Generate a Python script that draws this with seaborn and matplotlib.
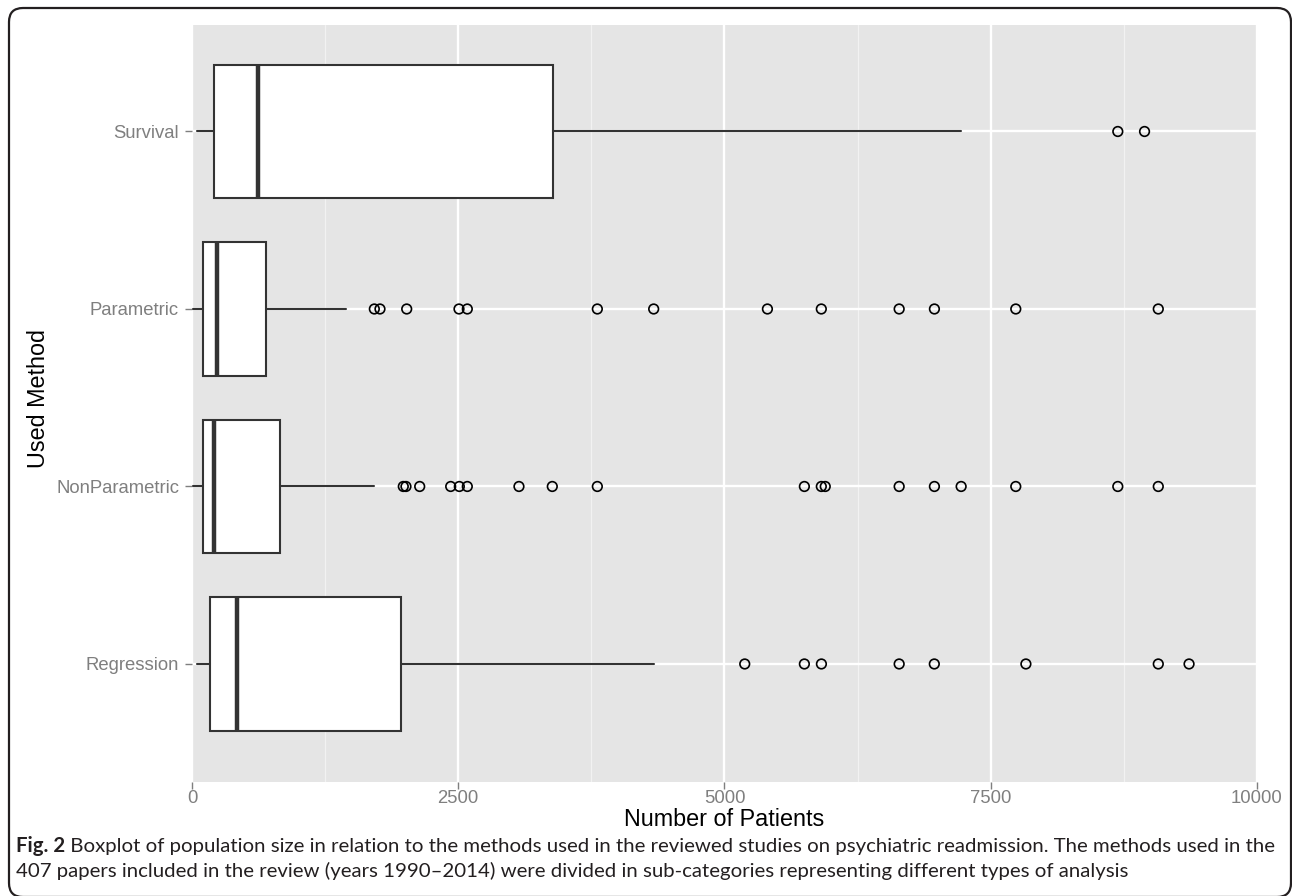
import matplotlib
matplotlib.use("Agg")
import matplotlib.pyplot as plt
import seaborn as sns
import pandas as pd
from matplotlib.patches import FancyBboxPatch
from matplotlib.transforms import IdentityTransform

# ---------------- data ----------------
methods = ["Regression", "NonParametric", "Parametric", "Survival"]
whisker_low = [45, 10, 10, 50]
q1 = [170, 105, 105, 205]
median = [420, 205, 238, 617]
q3 = [1965, 823, 692, 3390]
whisker_high = [4340, 1712, 1443, 7216]

outliers_regression = [5190, 5750, 5910, 6640, 6970, 7830, 9073, 9362]
outliers_nonparametric = [1984, 2009, 2138, 2429, 2510, 2585, 3070, 3383, 3806,
                          5750, 5909, 5946, 6640, 6971, 7222, 7735, 8693, 9073]
outliers_parametric = [1712, 1765, 2016, 2507, 2585, 3806, 4335, 5403, 5909,
                       6640, 6971, 7735, 9073]
outliers_survival = [8693, 8944]

x_ticks = [0, 2500, 5000, 7500, 10000]
x_minor = [1250, 3750, 6250, 8750]

x_title = "Number of Patients"
y_title = "Used Method"
caption_bold = "Fig. 2"
caption_line1 = (" Boxplot of population size in relation to the methods used in the "
                 "reviewed studies on psychiatric readmission. The methods used in the")
caption_line2 = ("407 papers included in the review (years 1990\u20132014) were divided in "
                 "sub-categories representing different types of analysis")

# ---------------- styling ----------------
sns.set_theme(style="darkgrid")
plt.rcParams['font.family'] = ['Liberation Sans', 'DejaVu Sans']

W, H = 1292, 896
fig = plt.figure(figsize=(W / 100, H / 100), dpi=100)
fig.patch.set_facecolor("white")
ax = fig.add_axes([192 / W, 114 / H, 1065 / W, 757 / H])
ax.set_facecolor("#E5E5E5")
for s in ax.spines.values():
    s.set_visible(False)

positions = list(range(len(methods)))
stats = []
for i, m in enumerate(methods):
    stats.append(dict(label=m, whislo=whisker_low[i], q1=q1[i], med=median[i],
                      q3=q3[i], whishi=whisker_high[i], fliers=[]))

edge = "#333333"
ax.bxp(stats, positions=positions, widths=0.75, orientation="horizontal",
       patch_artist=True, showcaps=False, showfliers=False,
       boxprops=dict(facecolor="white", edgecolor=edge, linewidth=1.5),
       medianprops=dict(color=edge, linewidth=3.2, solid_capstyle="butt"),
       whiskerprops=dict(color=edge, linewidth=1.5), manage_ticks=False,
       zorder=3)

out_lists = [outliers_regression, outliers_nonparametric, outliers_parametric, outliers_survival]
rows = []
for i, lst in enumerate(out_lists):
    for v in lst:
        rows.append({"value": v, "pos": positions[i]})
df_out = pd.DataFrame(rows)
sns.scatterplot(data=df_out, x="value", y="pos", ax=ax, marker="o", s=48,
                facecolors="none", edgecolor="black", linewidth=1.2, zorder=4,
                legend=False)

ax.set_xlim(0, 10000)
ax.set_ylim(-0.665, 3.6)
ax.set_xticks(x_ticks)
ax.set_xticklabels([str(t) for t in x_ticks])
ax.set_xticks(x_minor, minor=True)
ax.set_yticks(positions)
ax.set_yticklabels(methods)

ax.set_axisbelow(True)
ax.grid(which="major", color="white", linewidth=1.7)
ax.grid(which="minor", axis="x", color="#F2F2F2", linewidth=0.9)
ax.grid(which="minor", axis="y", visible=False)

ax.tick_params(axis="both", which="major", bottom=True, left=True, length=5,
               width=1.0, color="#7F7F7F", labelcolor="#7F7F7F", labelsize=13.3)
ax.tick_params(axis="y", which="major", pad=4.3)
ax.tick_params(axis="x", which="major", pad=0.5)
ax.tick_params(axis="both", which="minor", length=0, bottom=False, left=False)

ax.set_xlabel(x_title, fontsize=16.8, color="black", va="top")
ax.xaxis.set_label_coords(0.5, (896 - 808 - 114) / 757)
ax.set_ylabel(y_title, fontsize=16.8, color="black", va="center", rotation=90)
ax.yaxis.set_label_coords((38 - 192) / 1065, (896 - 398 - 114) / 757)

# ---------------- caption ----------------
cap_family = ['Lato', 'DejaVu Sans']
renderer = fig.canvas.get_renderer()
fs = 14.0
y1 = 1 - 846 / H
y2 = 1 - 871 / H
x0 = 16
tb = fig.text(x0 / W, y1, caption_bold, fontsize=fs, fontweight="bold",
              family=cap_family, va="center", ha="left", color="#231F20")
tr = fig.text(0, y1, caption_line1, fontsize=fs, family=cap_family,
              va="center", ha="left", color="#231F20")
t2 = fig.text(x0 / W, y2, caption_line2, fontsize=fs, family=cap_family,
              va="center", ha="left", color="#231F20")
wb = tb.get_window_extent(renderer).width
wr = tr.get_window_extent(renderer).width
target = 1275 - x0
fs2 = fs * target / (wb + wr)
for t in (tb, tr, t2):
    t.set_fontsize(fs2)
wb = tb.get_window_extent(renderer).width
tr.set_x((x0 + wb) / W)

# ---------------- rounded outer frame (cropped at right and bottom) ----------------
frame = FancyBboxPatch((9, -1), 1282, 889, boxstyle="round,pad=0,rounding_size=14",
                       transform=IdentityTransform(), facecolor="none",
                       edgecolor="#231F20", linewidth=1.6)
fig.add_artist(frame)

fig.savefig("out.png", dpi=100)
